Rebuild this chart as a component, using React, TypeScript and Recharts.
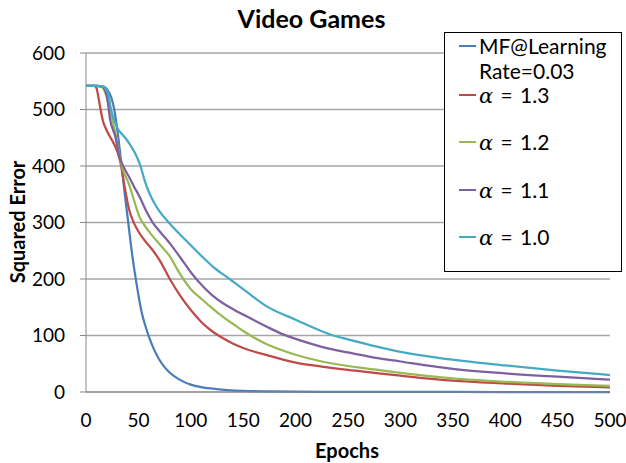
import { CartesianGrid, Label, Legend, Line, LineChart, XAxis, YAxis } from "recharts";

const TITLE = "Video Games";
const X_TICKS = [0, 50, 100, 150, 200, 250, 300, 350, 400, 450, 500];
const Y_TICKS = [0, 100, 200, 300, 400, 500, 600];

// MF@Learning Rate=0.03
const mfEpochs = [0, 10, 16, 20, 24, 27, 30, 34, 37, 40, 43, 46, 50, 53, 57, 60, 65, 70, 75, 80, 90, 100, 110, 125, 135, 150, 175, 200, 250, 300, 400, 500];
const mfError = [542, 542, 541, 536, 522, 500, 462, 400, 350, 305, 258, 218, 172, 142, 115, 98, 75, 57, 44, 34, 21, 13, 8.5, 5, 3.5, 2, 1, 0.5, 0.2, 0.1, 0, 0];

// alpha = 1.3
const a13Epochs = [0, 8, 10, 12, 14, 16, 20, 25, 30, 33, 37, 41, 46, 51, 57, 64, 70, 80, 90, 100, 110, 120, 130, 140, 150, 175, 200, 225, 250, 275, 300, 350, 400, 450, 500];
const a13Error = [542, 542, 538, 520, 499, 481, 462, 445, 425, 405, 362, 324, 298, 281, 266, 250, 234, 200, 170, 145, 124, 108, 96, 86, 78, 64, 52, 45, 39, 34, 29, 20, 15, 11, 8];

// alpha = 1.2
const a12Epochs = [0, 10, 15, 18, 20, 23, 28, 32, 35, 41, 46, 51, 57, 64, 70, 80, 90, 100, 110, 120, 130, 143, 150, 172, 200, 225, 250, 275, 300, 350, 400, 450, 500];
const a12Error = [542, 542, 540, 532, 520, 499, 458, 418, 395, 368, 338, 310, 292, 275, 262, 240, 208, 182, 165, 149, 134, 117, 108, 85, 66, 54, 46, 40, 34, 24, 18, 14, 11];

// alpha = 1.1
const a11Epochs = [0, 10, 16, 18, 20, 23, 28, 32, 36, 41, 46, 51, 57, 64, 70, 80, 90, 100, 111, 120, 130, 140, 150, 172, 188, 200, 225, 250, 275, 300, 350, 400, 450, 500];
const a11Error = [542, 542, 540, 535, 523, 482, 452, 416, 398, 381, 363, 346, 322, 299, 285, 263, 238, 212, 188, 172, 158, 147, 137, 116, 102, 94, 80, 70, 61, 54, 41, 33, 27, 22];

// alpha = 1.0
const a10Epochs = [0, 10, 17, 19, 21, 24, 28, 31, 35, 39, 43, 47, 52, 56, 60, 65, 70, 80, 95, 109, 121, 137, 150, 172, 200, 236, 250, 300, 338, 400, 450, 500];
const a10Error = [542, 542, 540, 536, 529, 499, 476, 464, 455, 446, 435, 422, 400, 374, 354, 335, 320, 298, 269, 243, 222, 200, 182, 152, 128, 100, 93, 71, 60, 47, 38, 30];

const zip = (xs: number[], ys: number[]) => xs.map((epoch, i) => ({ epoch, error: ys[i] }));

const SERIES = [
  { name: "MF@Learning Rate=0.03", color: "#4a7ebb", data: zip(mfEpochs, mfError) },
  { name: "α = 1.3", color: "#be4b48", data: zip(a13Epochs, a13Error) },
  { name: "α = 1.2", color: "#98b954", data: zip(a12Epochs, a12Error) },
  { name: "α = 1.1", color: "#7d60a0", data: zip(a11Epochs, a11Error) },
  { name: "α = 1.0", color: "#46aac5", data: zip(a10Epochs, a10Error) },
];

const FONT = "Lato, 'Open Sans', sans-serif";

function LegendBox() {
  // keep the series order (Excel style), not the sorted payload
  return (
    <div
      style={{
        width: 178,
        height: 240,
        boxSizing: "border-box",
        border: "1px solid #000",
        background: "#fff",
        position: "relative",
        fontFamily: FONT,
        fontSize: 21,
        color: "#000",
      }}
    >
      {SERIES.map((s, i) => {
        const center = i === 0 ? 13 : 62 + (i - 1) * 47.3;
        const isAlpha = s.name.startsWith("α");
        return (
          <div key={s.name} style={{ position: "absolute", left: 14, top: center - 12, width: 162 }}>
            <span
              style={{ position: "absolute", left: 0, top: 11, width: 17, height: 2, background: s.color }}
            />
            <div style={{ marginLeft: 20, lineHeight: "24.5px" }}>
              {isAlpha ? (
                <span style={{ wordSpacing: 2 }}>
                  <span style={{ fontFamily: "'DejaVu Serif'", fontStyle: "italic" }}>α</span>
                  {s.name.slice(1)}
                </span>
              ) : (
                s.name
              )}
            </div>
          </div>
        );
      })}
    </div>
  );
}

export default function App() {
  return (
    <div style={{ position: "absolute", left: 0, top: 0, width: 626, height: 463, background: "#fff" }}>
      <div
        style={{
          position: "absolute",
          left: 0,
          top: 1,
          width: 623,
          textAlign: "center",
          fontFamily: FONT,
          fontWeight: 700,
          fontSize: 25,
          lineHeight: "34px",
          color: "#000",
        }}
      >
        {TITLE}
      </div>
      <LineChart width={626} height={463} margin={{ top: 53, right: 16, bottom: 0, left: 0 }}>
        <CartesianGrid vertical={false} stroke="#a6a6a6" strokeWidth={1.3} />
        <XAxis
          type="number"
          dataKey="epoch"
          domain={[0, 500]}
          ticks={X_TICKS}
          height={71}
          tickLine={false}
          tickMargin={16}
          axisLine={{ stroke: "#868686" }}
          tick={{ fill: "#000", fontSize: 19, fontFamily: FONT }}
        >
          <Label
            content={() => (
              <text x={347} y={458} textAnchor="middle" fontFamily={FONT} fontWeight={700} fontSize={20} fill="#000">
                Epochs
              </text>
            )}
          />
        </XAxis>
        <YAxis
          type="number"
          domain={[0, 600]}
          ticks={Y_TICKS}
          width={86}
          tickSize={6}
          tickMargin={15}
          tickLine={{ stroke: "#868686" }}
          axisLine={{ stroke: "#868686" }}
          tick={{ fill: "#000", fontSize: 19, fontFamily: FONT }}
        >
          <Label
            content={() => (
              <text
                x={17}
                y={222}
                transform="rotate(-90 17 222)"
                textAnchor="middle"
                dominantBaseline="central"
                fontFamily={FONT}
                fontWeight={700}
                fontSize={20}
                fill="#000"
              >
                Squared Error
              </text>
            )}
          />
        </YAxis>
        <Legend
          layout="horizontal"
          verticalAlign="middle"
          align="center"
          wrapperStyle={{ position: "absolute", left: 444, top: 32, width: 178, height: 240 }}
          content={LegendBox}
        />
        {SERIES.map((s) => (
          <Line
            key={s.name}
            name={s.name}
            data={s.data}
            dataKey="error"
            type="monotone"
            stroke={s.color}
            strokeWidth={2.25}
            dot={false}
            activeDot={false}
            isAnimationActive={false}
          />
        ))}
      </LineChart>
    </div>
  );
}
